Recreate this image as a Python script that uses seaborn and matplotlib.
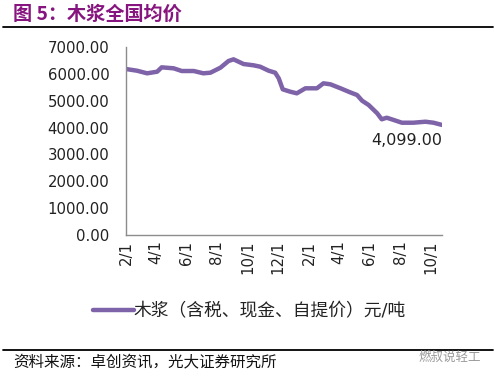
import matplotlib
matplotlib.use("Agg")
import matplotlib.pyplot as plt
import seaborn as sns
import pandas as pd

dates = ["2018-02-01", "2018-02-23", "2018-03-15", "2018-04-04", "2018-04-13",
         "2018-05-07", "2018-05-23", "2018-06-16", "2018-07-05", "2018-07-19",
         "2018-08-08", "2018-08-24", "2018-09-03", "2018-09-23", "2018-10-13",
         "2018-10-26", "2018-11-12", "2018-11-25", "2018-12-02", "2018-12-10",
         "2018-12-25", "2019-01-07", "2019-01-24", "2019-02-16", "2019-03-01",
         "2019-03-15", "2019-04-04", "2019-04-23", "2019-05-07", "2019-05-17",
         "2019-05-30", "2019-06-16", "2019-06-25", "2019-07-05", "2019-07-19",
         "2019-08-04", "2019-08-27", "2019-09-20", "2019-10-06", "2019-10-23"]
prices = [6180, 6117, 6020, 6080, 6243,
          6206, 6106, 6106, 6020, 6043,
          6230, 6478, 6541, 6366, 6318,
          6267, 6117, 6043, 5834, 5424,
          5335, 5275, 5462, 5462, 5648,
          5610, 5462, 5313, 5212, 5000,
          4840, 4531, 4308, 4367, 4282,
          4181, 4181, 4218, 4181, 4099]

tick_dates = ["2018-02-01", "2018-04-01", "2018-06-01", "2018-08-01", "2018-10-01",
              "2018-12-01", "2019-02-01", "2019-04-01", "2019-06-01", "2019-08-01",
              "2019-10-01"]
tick_labels = ["2/1", "4/1", "6/1", "8/1", "10/1", "12/1", "2/1", "4/1", "6/1", "8/1", "10/1"]
y_ticks = [0, 1000, 2000, 3000, 4000, 5000, 6000, 7000]

series_name = "木浆（含税、现金、自提价）元/吨"
title = "图 5：木浆全国均价"
source = "资料来源：卓创资讯，光大证券研究所"
watermark = "燃叔说轻工"
last_label = "4,099.00"

sns.set_style("white")
plt.rcParams["font.family"] = ["DejaVu Sans", "Noto Sans CJK SC"]

df = pd.DataFrame({"date": pd.to_datetime(dates), "price": prices, "series": series_name})

W, H = 495, 379
fig = plt.figure(figsize=(W / 100, H / 100), dpi=100)
ax = fig.add_axes([126 / W, 1 - 235 / H, (442 - 126) / W, (235 - 47) / H])

purple = "#7F63A8"
sns.lineplot(data=df, x="date", y="price", color=purple, linewidth=3.2, ax=ax, legend=False)

ax.set_ylim(0, 7000)
ax.set_xlim(pd.Timestamp("2018-02-01"), pd.Timestamp(dates[-1]))
ax.set_yticks(y_ticks)
ax.set_yticklabels([f"{v:.2f}" for v in y_ticks])
ax.set_xticks(pd.to_datetime(tick_dates))
ax.set_xticklabels(tick_labels, rotation=90)
ax.set_xlabel("")
ax.set_ylabel("")
ax.tick_params(axis="both", direction="in", length=5, width=1, color="#8C8C8C",
               labelsize=10.7, labelcolor="#222222")
ax.tick_params(axis="y", pad=12)
ax.tick_params(axis="x", pad=4)
for s in ["top", "right"]:
    ax.spines[s].set_visible(False)
for s in ["left", "bottom"]:
    ax.spines[s].set_color("#8C8C8C")
    ax.spines[s].set_linewidth(1)
ax.grid(False)

ax.annotate(last_label, xy=(pd.Timestamp(dates[-1]), prices[-1]), xytext=(0, -6),
            textcoords="offset points", ha="right", va="top", fontsize=11.5, color="#222222")

# legend
fig.legend(handles=[plt.Line2D([], [], color=purple, linewidth=3.2)], labels=[series_name],
           loc="center left", bbox_to_anchor=(77 / W, 1 - 311 / H), frameon=False,
           fontsize=12.8, handlelength=2.3, handletextpad=0.0, labelcolor="#222222")

# title and rules
fig.text(13 / W, 1 - 14 / H, title, fontsize=13.8, fontweight="bold", color="#86157F",
         va="center", ha="left", family=["Noto Sans CJK SC", "DejaVu Sans"])
fig.add_artist(plt.Line2D([3 / W, 493 / W], [1 - 27 / H, 1 - 27 / H], color="black", linewidth=1.3))
fig.add_artist(plt.Line2D([3 / W, 493 / W], [1 - 350 / H, 1 - 350 / H], color="black", linewidth=1.3))
fig.text(13 / W, 1 - 362 / H, source, fontsize=11.2, color="#111111", va="center", ha="left",
         family=["Noto Sans CJK SC", "DejaVu Sans"])
fig.text(418 / W, 1 - 357 / H, watermark, fontsize=9, color="#9A9A9A", va="center", ha="left",
         family=["Noto Sans CJK SC", "DejaVu Sans"])

fig.savefig("out.png", dpi=100)
